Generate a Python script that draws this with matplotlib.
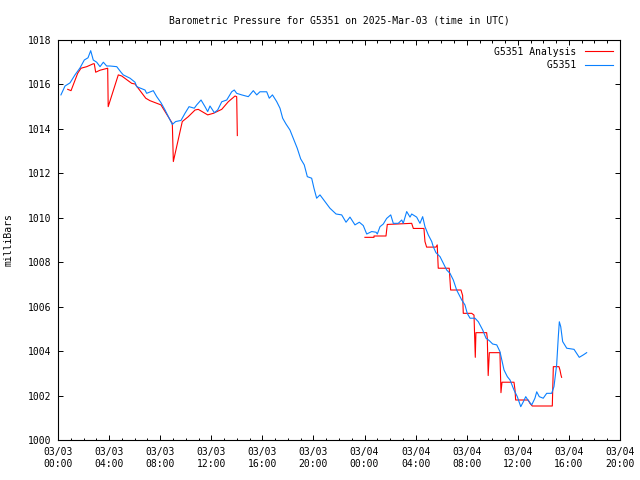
import numpy as np
import matplotlib as mpl

mpl.use("Agg")

import matplotlib.pyplot as plt

# hours since 2025-03-03 00:00 UTC, pressure in mb
station_hours = [
    0.23, 0.55, 0.94, 1.33, 1.72, 2.06, 2.35, 2.56, 2.76, 3.03, 3.29, 3.55, 3.81, 4.07,
    4.60, 4.93, 5.11, 5.64, 6.03, 6.16, 6.81, 6.94, 7.46, 7.73, 8.06, 8.38, 8.95, 9.21,
    9.63, 9.94, 10.26, 10.67, 10.86, 11.20, 11.51, 11.72, 11.90, 12.24, 12.50, 12.82,
    13.21, 13.60, 13.80, 13.99, 14.38, 14.90, 15.29, 15.56, 15.81, 16.34, 16.54, 16.79,
    17.12, 17.38, 17.59, 17.85, 18.16, 18.42, 18.73, 19.00, 19.28, 19.52, 19.86, 20.04,
    20.25, 20.51, 20.90, 21.29, 21.77, 22.21, 22.55, 22.86, 23.25, 23.59, 23.90, 24.17,
    24.56, 24.90, 25.00, 25.21, 25.47, 25.73, 26.05, 26.25, 26.64, 26.91, 27.03, 27.30,
    27.56, 27.69, 28.08, 28.34, 28.55, 28.73, 28.99, 29.26, 29.38, 29.59, 29.91, 30.17,
    30.43, 30.69, 30.95, 31.21, 31.61, 31.86, 32.04, 32.26, 32.65, 32.91, 33.25, 33.51,
    33.77, 34.03, 34.35, 34.60, 34.92, 35.18, 35.39, 35.70, 35.96, 36.23, 36.43, 36.62,
    36.82, 37.09, 37.34, 37.48, 37.68, 37.99, 38.26, 38.65, 38.83, 39.04, 39.17, 39.25,
    39.36, 39.51, 39.83, 40.40, 40.81, 41.13, 41.39,
]
station_mb = [
    1015.53, 1015.93, 1016.07, 1016.43, 1016.74, 1017.10, 1017.20, 1017.52, 1017.10,
    1017.00, 1016.80, 1017.00, 1016.83, 1016.83, 1016.80, 1016.55, 1016.43, 1016.28,
    1016.10, 1015.90, 1015.75, 1015.60, 1015.72, 1015.45, 1015.18, 1014.85, 1014.20,
    1014.33, 1014.38, 1014.70, 1015.00, 1014.93, 1015.08, 1015.30, 1015.00, 1014.78,
    1015.03, 1014.73, 1014.85, 1015.22, 1015.30, 1015.67, 1015.75, 1015.60, 1015.53,
    1015.45, 1015.72, 1015.53, 1015.67, 1015.67, 1015.38, 1015.53, 1015.23, 1014.93,
    1014.48, 1014.22, 1013.95, 1013.58, 1013.13, 1012.65, 1012.38, 1011.85, 1011.78,
    1011.33, 1010.88, 1011.03, 1010.73, 1010.43, 1010.17, 1010.13, 1009.80, 1010.03,
    1009.68, 1009.80, 1009.65, 1009.27, 1009.38, 1009.35, 1009.27, 1009.60, 1009.72,
    1009.97, 1010.13, 1009.75, 1009.75, 1009.90, 1009.75, 1010.28, 1010.03, 1010.17,
    1010.03, 1009.75, 1010.05, 1009.60, 1009.23, 1008.93, 1008.70, 1008.43, 1008.25,
    1007.95, 1007.65, 1007.50, 1007.20, 1006.75, 1006.30, 1006.08, 1005.70, 1005.48,
    1005.48, 1005.32, 1004.95, 1004.58, 1004.47, 1004.32, 1004.28, 1003.98, 1003.15,
    1002.85, 1002.70, 1002.25, 1001.95, 1001.50, 1001.72, 1001.95, 1001.77, 1001.58,
    1001.88, 1002.17, 1001.95, 1001.88, 1002.10, 1002.10, 1002.40, 1003.38, 1004.65,
    1005.32, 1005.10, 1004.43, 1004.13, 1004.08, 1003.72, 1003.83, 1003.93,
]

# analysis series, NaN marks the gap between the two runs
analysis_hours = [
    0.76, 1.02, 1.54, 1.80, 2.25, 2.76, 2.84, 2.95, 3.29, 3.89, 3.93, 4.72, 4.99, 5.77,
    6.03, 6.87, 7.20, 8.06, 8.38, 8.95, 9.03, 9.73, 10.20, 10.73, 10.98, 11.72, 12.16,
    12.82, 13.33, 13.86, 13.99, 14.04,
    np.nan,
    24.03, 24.74, 24.74, 25.68, 25.78, 27.69, 27.82, 28.65, 28.73, 28.86, 29.59, 29.69,
    29.77, 30.63, 30.74, 31.55, 31.68, 31.73, 32.39, 32.57, 32.67, 32.72, 33.56, 33.61,
    33.68, 33.77, 34.60, 34.68, 34.76, 35.70, 35.78, 35.83, 36.82, 36.95, 37.13, 38.70,
    38.78, 39.22, 39.30, 39.38, 39.43,
]
analysis_mb = [
    1015.78, 1015.72, 1016.50, 1016.73, 1016.80, 1016.93, 1016.93, 1016.55, 1016.64,
    1016.73, 1015.00, 1016.43, 1016.38, 1016.05, 1016.02, 1015.38, 1015.27, 1015.08,
    1014.78, 1014.25, 1012.53, 1014.33, 1014.55, 1014.85, 1014.88, 1014.63, 1014.70,
    1014.88, 1015.22, 1015.48, 1015.45, 1013.70,
    np.nan,
    1009.12, 1009.12, 1009.18, 1009.18, 1009.70, 1009.75, 1009.52, 1009.52, 1008.93,
    1008.68, 1008.68, 1008.78, 1007.73, 1007.73, 1006.75, 1006.75, 1006.50, 1005.70,
    1005.70, 1005.62, 1003.72, 1004.83, 1004.83, 1004.58, 1002.90, 1003.93, 1003.93,
    1002.13, 1002.60, 1002.60, 1002.25, 1001.80, 1001.80, 1001.65, 1001.53, 1001.53,
    1003.30, 1003.30, 1003.15, 1002.92, 1002.82,
]

tick_hours = list(range(0, 45, 4))
tick_labels = [
    "03/03\n00:00", "03/03\n04:00", "03/03\n08:00", "03/03\n12:00", "03/03\n16:00",
    "03/03\n20:00", "03/04\n00:00", "03/04\n04:00", "03/04\n08:00", "03/04\n12:00",
    "03/04\n16:00", "03/04\n20:00",
]

plt.rcParams["font.family"] = "DejaVu Sans Mono"
plt.rcParams["font.size"] = 7

fig = plt.figure(figsize=(6.4, 4.8), dpi=100)
ax = fig.add_axes([58 / 640, 40 / 480, 562 / 640, 400 / 480])

ax.plot(analysis_hours, analysis_mb, color="#ff0000", linewidth=0.8, label="G5351 Analysis")
ax.plot(station_hours, station_mb, color="#0a80ff", linewidth=0.8, label="         G5351")

ax.set_xlim(0, 44)
ax.set_ylim(1000, 1018)
ax.set_xticks(tick_hours)
ax.set_xticklabels(tick_labels)
ax.set_xticks(range(0, 45), minor=True)
ax.set_yticks(range(1000, 1019, 2))

ax.tick_params(which="both", direction="in", top=True, right=True, width=0.7, pad=5)
ax.tick_params(which="major", length=3.6)
ax.tick_params(which="minor", length=1.8)
for spine in ax.spines.values():
    spine.set_linewidth(0.8)

ax.set_title("Barometric Pressure for G5351 on 2025-Mar-03 (time in UTC)", fontsize=7, pad=12)
ax.set_ylabel("milliBars", labelpad=10)

ax.legend(loc="upper right", frameon=False, markerfirst=False, handlelength=2.9,
          borderaxespad=0.3, labelspacing=0.35, handletextpad=0.9)

fig.savefig("out.png", dpi=100)
